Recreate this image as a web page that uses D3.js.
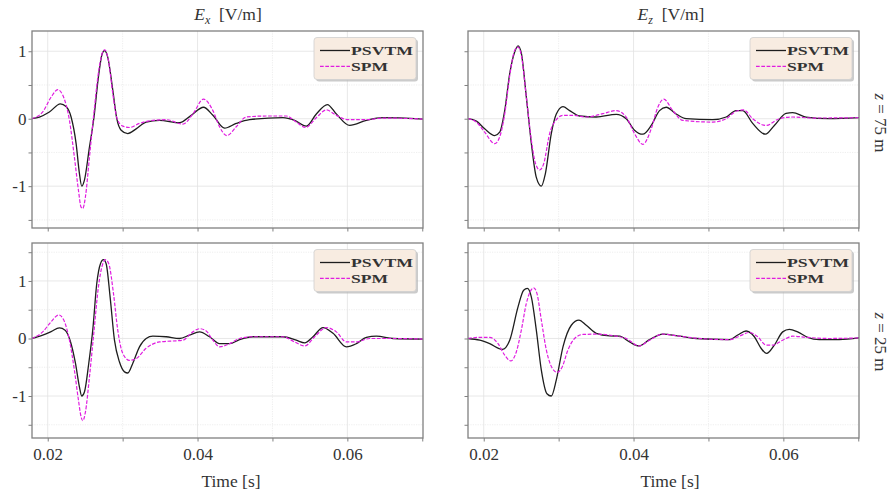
<!DOCTYPE html>
<html>
<head>
<meta charset="utf-8">
<script src="https://cdn.jsdelivr.net/npm/d3@7"></script>
<style>
  html, body { margin: 0; padding: 0; background: #ffffff; }
  svg { display: block; }
  text { font-family: "Liberation Serif", "DejaVu Serif", serif; fill: #333; }
</style>
</head>
<body>
<svg id="chart" width="892" height="498"></svg>
<script>
// Time samples [s] and field values [V/m] for each receiver depth and component.
const timeDomain = [0.0179, 0.0701];
const xMajorTicks = [0.02, 0.04, 0.06];
const xMinorTicks = [0.03, 0.05, 0.07];
const yMajorTicks = [-1, 0, 1];
const yMinorTicks = [-1.5, -0.5, 0.5, 1.5];
const columnTitles = ["E", "E"];
const columnSubs = ["x", "z"];
const rowLabels = ["75", "25"];
const seriesNames = ["PSVTM", "SPM"];

// z = 75 m, Ex
const ex75Psvtm = [
  [0.01786,0],[0.01889,0.025],[0.02022,0.10],[0.02169,0.22],[0.02245,0.18],[0.02312,0.025],
  [0.02379,-0.37],[0.02423,-0.81],[0.02454,-1.0],[0.0249,-0.91],[0.02557,-0.42],[0.02615,0],
  [0.02677,0.62],[0.02726,0.96],[0.02757,1.01],[0.02802,0.91],[0.02869,0.42],[0.02922,0],
  [0.0298,-0.17],[0.03069,-0.22],[0.0318,-0.15],[0.03314,-0.05],[0.03492,-0.025],[0.0376,-0.06],
  [0.03915,0.05],[0.0408,0.17],[0.04205,0.05],[0.04361,-0.14],[0.04517,-0.07],[0.04695,-0.015],
  [0.0514,0.015],[0.05296,-0.025],[0.05452,-0.11],[0.05586,0.07],[0.05733,0.21],[0.05853,0.07],
  [0.06031,-0.10],[0.06254,-0.025],[0.06477,0.015],[0.0701,-0.005]
];
const ex75Spm = [
  [0.01786,0],[0.01933,0.10],[0.02045,0.32],[0.02134,0.43],[0.022,0.35],[0.0229,-0.025],
  [0.02356,-0.57],[0.0241,-1.06],[0.02445,-1.31],[0.02468,-1.33],[0.02503,-1.16],[0.02557,-0.57],
  [0.02615,0.07],[0.02682,0.72],[0.02735,0.99],[0.02762,1.02],[0.02811,0.86],[0.02869,0.37],
  [0.02927,0],[0.03002,-0.11],[0.03091,-0.13],[0.03225,-0.07],[0.03403,-0.025],[0.03581,-0.015],
  [0.03804,-0.08],[0.03938,0.07],[0.0408,0.29],[0.04205,0.12],[0.04294,-0.12],[0.04392,-0.25],
  [0.04517,-0.12],[0.0465,0.025],[0.04918,0.04],[0.05185,0.04],[0.05318,-0.05],[0.05443,-0.13],
  [0.05586,0.015],[0.05719,0.13],[0.05853,0.05],[0.06009,-0.015],[0.06254,-0.015],[0.06477,0.01],
  [0.0701,-0.005]
];

// z = 75 m, Ez
const ez75Psvtm = [
  [0.0179,0],[0.01902,-0.035],[0.02013,-0.15],[0.02147,-0.25],[0.02213,-0.2],[0.0228,0.12],
  [0.02347,0.67],[0.02413,0.99],[0.02458,1.08],[0.02502,0.97],[0.02569,0.32],[0.02636,-0.37],
  [0.02702,-0.87],[0.02769,-1.0],[0.02822,-0.82],[0.02902,-0.22],[0.02969,0.07],[0.03058,0.18],
  [0.03147,0.12],[0.0328,0.04],[0.03502,0.025],[0.03769,0.065],[0.03902,0],[0.04013,-0.17],
  [0.04124,-0.23],[0.04236,-0.1],[0.04347,0.12],[0.04436,0.17],[0.04569,0.07],[0.04702,0],
  [0.05058,-0.015],[0.05236,0.025],[0.05369,0.12],[0.05458,0.12],[0.05591,-0.07],[0.0576,-0.23],
  [0.0588,-0.1],[0.06036,0.08],[0.06124,0.09],[0.06302,0.025],[0.06613,0],[0.0701,0.015]
];
const ez75Spm = [
  [0.0179,0],[0.01902,-0.05],[0.02013,-0.2],[0.02147,-0.37],[0.02213,-0.27],[0.0228,0.07],
  [0.02347,0.64],[0.02413,1.01],[0.02458,1.06],[0.02502,0.94],[0.02569,0.32],[0.02636,-0.32],
  [0.02693,-0.67],[0.02747,-0.76],[0.028,-0.67],[0.0288,-0.22],[0.02969,-0.015],[0.03058,0.05],
  [0.03191,0.05],[0.03369,0.025],[0.03591,0.075],[0.03769,0.12],[0.03902,0.025],[0.04013,-0.22],
  [0.04124,-0.38],[0.04236,-0.15],[0.04324,0.17],[0.04404,0.29],[0.04524,0.12],[0.04658,-0.025],
  [0.05058,-0.05],[0.05236,0],[0.05369,0.11],[0.05471,0.13],[0.05591,0],[0.05769,-0.1],
  [0.05947,0],[0.06124,0.025],[0.06391,0.01],[0.0701,0.015]
];

// z = 25 m, Ex
const ex25Psvtm = [
  [0.01786,0],[0.01933,0.06],[0.02045,0.12],[0.02156,0.185],[0.02232,0.145],[0.02298,-0.03],
  [0.0237,-0.43],[0.02423,-0.84],[0.02454,-1.0],[0.0249,-0.93],[0.02548,-0.43],[0.02601,0.145],
  [0.02655,0.96],[0.02704,1.30],[0.02744,1.37],[0.0278,1.30],[0.02833,0.72],[0.02891,-0.03],
  [0.02958,-0.41],[0.03025,-0.58],[0.03069,-0.6],[0.03136,-0.43],[0.03225,-0.145],[0.03314,0],
  [0.03403,0.04],[0.03581,0.03],[0.0376,0],[0.03893,0.06],[0.04027,0.115],[0.0416,0.03],
  [0.04294,-0.09],[0.04428,-0.09],[0.04561,-0.02],[0.04739,0.03],[0.0514,0.03],[0.05318,-0.03],
  [0.0543,-0.075],[0.05541,0.03],[0.05675,0.19],[0.05809,0.09],[0.05987,-0.145],[0.0612,-0.09],
  [0.06254,0.02],[0.06388,0.04],[0.0661,0],[0.0701,-0.01]
];
const ex25Spm = [
  [0.01786,0],[0.01933,0.115],[0.02045,0.29],[0.02147,0.41],[0.02214,0.32],[0.0229,-0.03],
  [0.02356,-0.55],[0.0241,-1.07],[0.02445,-1.36],[0.02468,-1.43],[0.02503,-1.28],[0.02557,-0.67],
  [0.02615,0.09],[0.02677,0.9],[0.02735,1.30],[0.02771,1.37],[0.02815,1.30],[0.02878,0.78],
  [0.02935,0.145],[0.03002,-0.26],[0.03091,-0.38],[0.0318,-0.35],[0.03314,-0.17],[0.03492,-0.06],
  [0.03715,-0.04],[0.03804,-0.03],[0.03938,0.115],[0.04027,0.17],[0.04116,0.13],[0.04205,-0.03],
  [0.04294,-0.145],[0.04428,-0.09],[0.04561,0],[0.04739,0.03],[0.0514,0.03],[0.05296,-0.06],
  [0.0543,-0.13],[0.05564,0.03],[0.05719,0.19],[0.05853,0.115],[0.05987,-0.06],[0.0612,-0.06],
  [0.06298,0],[0.0661,0],[0.0701,-0.01]
];

// z = 25 m, Ez
const ez25Psvtm = [
  [0.0179,0],[0.01947,-0.03],[0.0208,-0.09],[0.02249,-0.19],[0.02347,-0.03],[0.02458,0.55],
  [0.02533,0.84],[0.02582,0.87],[0.02636,0.72],[0.02702,0.145],[0.02769,-0.55],[0.02844,-0.96],
  [0.02902,-1.0],[0.02969,-0.72],[0.03058,-0.145],[0.03169,0.23],[0.03271,0.32],[0.03369,0.23],
  [0.03502,0.09],[0.0368,0.046],[0.03813,0.04],[0.03947,-0.06],[0.04071,-0.13],[0.04213,-0.02],
  [0.04391,0.075],[0.04613,0.04],[0.04836,0],[0.0528,-0.02],[0.05391,0.06],[0.05502,0.13],
  [0.05613,0.03],[0.05702,-0.17],[0.05778,-0.26],[0.0588,-0.115],[0.05991,0.115],[0.0608,0.16],
  [0.06191,0.115],[0.06324,0.02],[0.0648,-0.02],[0.06747,-0.02],[0.0701,0.01]
];
const ez25Spm = [
  [0.0179,0],[0.01947,0.02],[0.0208,0.02],[0.02191,-0.09],[0.0228,-0.29],[0.0236,-0.39],
  [0.02436,-0.23],[0.02502,0.145],[0.02569,0.61],[0.02636,0.85],[0.02667,0.88],[0.02711,0.78],
  [0.02769,0.32],[0.02836,-0.2],[0.02916,-0.52],[0.02982,-0.59],[0.03049,-0.49],[0.03124,-0.2],
  [0.03213,0],[0.03324,0.07],[0.03502,0.075],[0.03769,0.04],[0.03902,0],[0.04071,-0.13],
  [0.04213,-0.03],[0.04391,0.075],[0.04613,0.04],[0.0488,0],[0.0528,-0.02],[0.05413,0.04],
  [0.05547,0.105],[0.05658,0.03],[0.05769,-0.115],[0.05858,-0.115],[0.05991,-0.03],[0.06124,0.04],
  [0.06302,0.02],[0.06613,0],[0.0701,0.01]
];

const rowDomains = [[-1.62, 1.30], [-1.73, 1.66]];

const panels = [
  { row: 0, col: 0, x0: 32,  x1: 423, y0: 31,  y1: 228, series: [ex75Psvtm, ex75Spm] },
  { row: 0, col: 1, x0: 468, x1: 859, y0: 31,  y1: 228, series: [ez75Psvtm, ez75Spm] },
  { row: 1, col: 0, x0: 32,  x1: 423, y0: 243, y1: 438, series: [ex25Psvtm, ex25Spm] },
  { row: 1, col: 1, x0: 468, x1: 859, y0: 243, y1: 438, series: [ez25Psvtm, ez25Spm] }
];

const seriesStyle = [
  { stroke: "#1e1e1e", width: 1.3, dash: null },
  { stroke: "#e01de0", width: 1.2, dash: "3.7 1.6" }
];
// legend label widths (wide bold face)
const legendTextWidth = [62, 37];

const frameColor = "#808080";
const svg = d3.select("#chart");

panels.forEach((p, i) => {
  const x = d3.scaleLinear().domain(timeDomain).range([p.x0, p.x1]);
  const y = d3.scaleLinear().domain(rowDomains[p.row]).range([p.y1, p.y0]);
  const g = svg.append("g");
  const clipId = "clip" + i;
  svg.append("clipPath").attr("id", clipId)
    .append("rect").attr("x", p.x0).attr("y", p.y0)
    .attr("width", p.x1 - p.x0).attr("height", p.y1 - p.y0);

  const yMin = y.domain()[0], yMax = y.domain()[1];
  const yMinor = yMinorTicks.filter(v => v >= yMin && v <= yMax);

  // grid: solid at major ticks, dotted at minor ticks
  const grid = g.append("g");
  grid.selectAll(".vmaj").data(xMajorTicks).join("line")
    .attr("x1", d => x(d)).attr("x2", d => x(d)).attr("y1", p.y0).attr("y2", p.y1)
    .attr("stroke", "#e2e2e2").attr("stroke-width", 0.8);
  grid.selectAll(".vmin").data(xMinorTicks.filter(v => v < timeDomain[1] - 0.0005)).join("line")
    .attr("x1", d => x(d)).attr("x2", d => x(d)).attr("y1", p.y0).attr("y2", p.y1)
    .attr("stroke", "#e6e6e6").attr("stroke-width", 0.7).attr("stroke-dasharray", "1.2 1.2");
  grid.selectAll(".hmaj").data(yMajorTicks).join("line")
    .attr("x1", p.x0).attr("x2", p.x1).attr("y1", d => y(d)).attr("y2", d => y(d))
    .attr("stroke", "#e2e2e2").attr("stroke-width", 0.8);
  grid.selectAll(".hmin").data(yMinor).join("line")
    .attr("x1", p.x0).attr("x2", p.x1).attr("y1", d => y(d)).attr("y2", d => y(d))
    .attr("stroke", "#e6e6e6").attr("stroke-width", 0.7).attr("stroke-dasharray", "1.2 1.2");

  // traces
  const line = d3.line().x(d => x(d[0])).y(d => y(d[1])).curve(d3.curveMonotoneX);
  const traces = g.append("g").attr("clip-path", `url(#${clipId})`);
  p.series.forEach((s, k) => {
    const st = seriesStyle[k];
    traces.append("path").datum(s).attr("d", line)
      .attr("fill", "none").attr("stroke", st.stroke).attr("stroke-width", st.width)
      .attr("stroke-dasharray", st.dash).attr("stroke-linejoin", "round");
  });

  // axes
  const xAxis = d3.axisBottom(x).tickValues(xMajorTicks.concat(xMinorTicks))
    .tickSize(3.5).tickPadding(6.5)
    .tickFormat(d => (p.row === 1 && xMajorTicks.includes(d)) ? d3.format(".2f")(d) : "");
  const yAxis = d3.axisLeft(y).tickValues(yMajorTicks.concat(yMinor))
    .tickSize(3.5).tickPadding(2)
    .tickFormat(d => (p.col === 0 && yMajorTicks.includes(d)) ? String(d) : "");

  const gx = g.append("g").attr("transform", `translate(0,${p.y1})`).call(xAxis);
  const gy = g.append("g").attr("transform", `translate(${p.x0},0)`).call(yAxis);
  [gx, gy].forEach(ax => {
    ax.select(".domain").remove();
    ax.selectAll(".tick line").attr("stroke", frameColor).attr("stroke-width", 1);
    ax.selectAll(".tick text").attr("fill", "#333").style("font-size", "17px")
      .style("font-family", "'Liberation Serif', serif");
  });

  // frame
  g.append("rect").attr("x", p.x0).attr("y", p.y0)
    .attr("width", p.x1 - p.x0).attr("height", p.y1 - p.y0)
    .attr("fill", "none").attr("stroke", frameColor).attr("stroke-width", 1.3);

  // legend
  const lx = p.x1 - 109, ly = p.y0 + 6.5, lw = 102, lh = 42;
  const leg = g.append("g");
  leg.append("rect").attr("x", lx + 2).attr("y", ly + 2).attr("width", lw).attr("height", lh)
    .attr("rx", 3).attr("fill", "#b5b5b5").attr("opacity", 0.7);
  leg.append("rect").attr("x", lx).attr("y", ly).attr("width", lw).attr("height", lh)
    .attr("rx", 3).attr("fill", "#f8ece1").attr("stroke", "#cfcfcf").attr("stroke-width", 0.8);
  seriesNames.forEach((name, k) => {
    const st = seriesStyle[k];
    const yy = ly + 13 + k * 15.8;
    leg.append("line").attr("x1", lx + 6).attr("x2", lx + 36).attr("y1", yy).attr("y2", yy)
      .attr("stroke", st.stroke).attr("stroke-width", st.width).attr("stroke-dasharray", st.dash);
    leg.append("text").attr("x", lx + 37).attr("y", yy + 4.6)
      .attr("textLength", legendTextWidth[k]).attr("lengthAdjust", "spacingAndGlyphs")
      .style("font-family", "'Liberation Serif', serif").style("font-weight", "bold")
      .style("font-size", "13.5px").attr("fill", "#222").text(name);
  });
});

// column titles
const titleX = [228, 671];
columnTitles.forEach((t, c) => {
  const tt = svg.append("text").attr("x", titleX[c]).attr("y", 20)
    .attr("text-anchor", "middle").style("font-size", "17.5px");
  tt.append("tspan").style("font-style", "italic").text(t);
  tt.append("tspan").style("font-style", "italic").style("font-size", "12px").attr("dy", 4).text(columnSubs[c]);
  tt.append("tspan").attr("dy", -4).text("\u2002[V/m]");
});

// time axis labels
const timeLabelX = [231, 670];
timeLabelX.forEach(xx => {
  svg.append("text").attr("x", xx).attr("y", 487).attr("text-anchor", "middle")
    .style("font-size", "17.5px").text("Time [s]");
});

// depth labels on the right
const rowLabelY = [123, 342];
rowLabels.forEach((d, r) => {
  const t = svg.append("text")
    .attr("transform", `translate(881,${rowLabelY[r]}) rotate(90)`)
    .attr("text-anchor", "middle").attr("dominant-baseline", "central")
    .style("font-size", "17px");
  t.append("tspan").style("font-style", "italic").text("z");
  t.append("tspan").text(` = ${d} m`);
});
</script>
</body>
</html>
